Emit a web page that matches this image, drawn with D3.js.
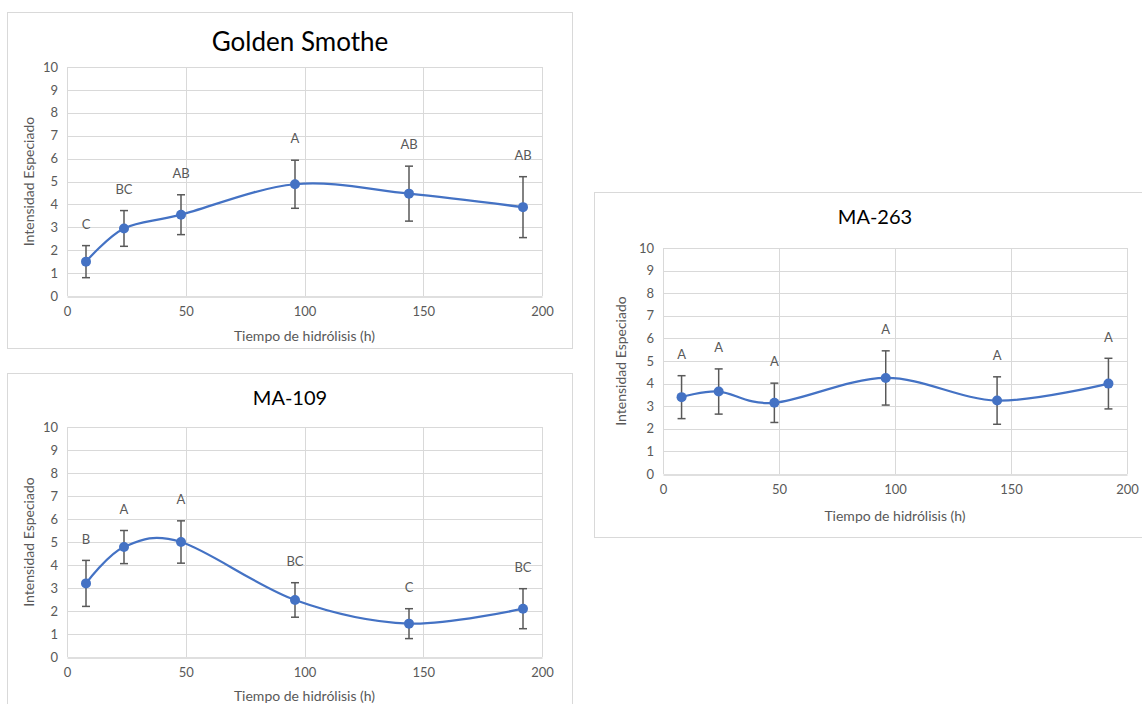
<!DOCTYPE html>
<html>
<head>
<meta charset="utf-8">
<script src="https://cdn.jsdelivr.net/npm/d3@7"></script>
<style>
  body { margin: 0; background: #fff; }
  text { font-family: Lato, "Liberation Sans", sans-serif; }
</style>
</head>
<body>
<div id="vis"></div>
<script>
// data
const hours = [8, 24, 48, 96, 144, 192];
const xTicks = [0, 50, 100, 150, 200];
const yTicks = [0, 1, 2, 3, 4, 5, 6, 7, 8, 9, 10];

const goldenMean = [1.5, 2.95, 3.55, 4.88, 4.47, 3.88];
const goldenErr = [0.7, 0.78, 0.87, 1.05, 1.2, 1.33];
const goldenLetters = ["C", "BC", "AB", "A", "AB", "AB"];

const ma109Mean = [3.2, 4.78, 5.0, 2.48, 1.45, 2.1];
const ma109Err = [1.0, 0.72, 0.92, 0.75, 0.65, 0.87];
const ma109Letters = ["B", "A", "A", "BC", "C", "BC"];

const ma263Mean = [3.4, 3.65, 3.15, 4.25, 3.25, 4.0];
const ma263Err = [0.95, 1.0, 0.87, 1.2, 1.05, 1.12];
const ma263Letters = ["A", "A", "A", "A", "A", "A"];

const W = 1142, H = 704;
const blue = "#4472c4", grey = "#595959";

const svg = d3.select("#vis").append("svg")
  .attr("width", W).attr("height", H)
  .style("background", "#fff");

function drawChart(cfg) {
  const rows = hours.map((h, i) => ({ h: h, v: cfg.mean[i], e: cfg.err[i], lab: cfg.letters[i] }));

  const x = d3.scaleLinear().domain([0, 200]).range([cfg.plot.l, cfg.plot.r]);
  const y = d3.scaleLinear().domain([0, 10]).range([cfg.plot.b, cfg.plot.t]);

  const g = svg.append("g");

  // chart frame
  g.append("rect")
    .attr("x", cfg.box.x + 0.5).attr("y", cfg.box.y + 0.5)
    .attr("width", cfg.box.w).attr("height", cfg.box.h)
    .attr("fill", "#fff").attr("stroke", "#d9d9d9");

  // title
  g.append("text")
    .attr("x", cfg.titleX).attr("y", cfg.titleY)
    .attr("text-anchor", "middle").attr("dominant-baseline", "middle")
    .style("font-size", cfg.titleSize + "px").attr("fill", "#000")
    .text(cfg.title);

  // grid lines
  g.append("g").selectAll("line").data(yTicks.slice(1)).join("line")
    .attr("x1", x(0)).attr("x2", x(200))
    .attr("y1", d => Math.round(y(d)) + 0.5).attr("y2", d => Math.round(y(d)) + 0.5)
    .attr("stroke", "#d9d9d9").attr("stroke-width", 1);
  g.append("g").selectAll("line").data(xTicks).join("line")
    .attr("y1", y(0)).attr("y2", y(10))
    .attr("x1", d => Math.round(x(d)) + 0.5).attr("x2", d => Math.round(x(d)) + 0.5)
    .attr("stroke", "#d9d9d9").attr("stroke-width", 1);

  // axes (labels only, Excel style)
  const xAxis = g.append("g")
    .attr("transform", `translate(0, ${Math.round(y(0)) + 0.5})`)
    .call(d3.axisBottom(x).tickValues(xTicks).tickSize(0).tickPadding(10));
  xAxis.select(".domain").attr("stroke", "#bfbfbf");
  xAxis.selectAll("text").attr("fill", grey).style("font-size", "13px")
    .style("font-family", "Lato, 'Liberation Sans', sans-serif");

  const yAxis = g.append("g")
    .attr("transform", `translate(${x(0)}, 0)`)
    .call(d3.axisLeft(y).tickValues(yTicks).tickSize(0).tickPadding(9));
  yAxis.select(".domain").remove();
  yAxis.selectAll("text").attr("fill", grey).style("font-size", "13px")
    .style("font-family", "Lato, 'Liberation Sans', sans-serif");

  // axis titles
  g.append("text")
    .attr("x", (cfg.plot.l + cfg.plot.r) / 2).attr("y", cfg.xTitleY)
    .attr("text-anchor", "middle").attr("dominant-baseline", "middle")
    .style("font-size", "14px").attr("fill", grey)
    .text("Tiempo de hidrólisis (h)");
  g.append("text")
    .attr("transform", `translate(${cfg.yTitleX}, ${(cfg.plot.t + cfg.plot.b) / 2}) rotate(-90)`)
    .attr("text-anchor", "middle").attr("dominant-baseline", "middle")
    .style("font-size", "14px").attr("fill", grey)
    .text("Intensidad Especiado");

  // smoothed line
  g.append("path")
    .datum(rows)
    .attr("fill", "none").attr("stroke", blue).attr("stroke-width", 2.25)
    .attr("d", d3.line().curve(d3.curveCardinal.tension(0))
      .x(d => x(d.h)).y(d => y(d.v)));

  // error bars
  const eb = g.append("g").attr("stroke", grey).attr("stroke-width", 1.5);
  eb.selectAll(".stem").data(rows).join("line")
    .attr("x1", d => x(d.h)).attr("x2", d => x(d.h))
    .attr("y1", d => y(d.v - d.e)).attr("y2", d => y(d.v + d.e));
  eb.selectAll(".capT").data(rows).join("line")
    .attr("x1", d => x(d.h) - 4).attr("x2", d => x(d.h) + 4)
    .attr("y1", d => y(d.v + d.e)).attr("y2", d => y(d.v + d.e));
  eb.selectAll(".capB").data(rows).join("line")
    .attr("x1", d => x(d.h) - 4).attr("x2", d => x(d.h) + 4)
    .attr("y1", d => y(d.v - d.e)).attr("y2", d => y(d.v - d.e));

  // markers
  g.append("g").selectAll("circle").data(rows).join("circle")
    .attr("cx", d => x(d.h)).attr("cy", d => y(d.v))
    .attr("r", 5).attr("fill", blue);

  // significance letters
  g.append("g").selectAll("text").data(rows).join("text")
    .attr("x", d => x(d.h)).attr("y", d => y(d.v + d.e) - 20)
    .attr("text-anchor", "middle").attr("dominant-baseline", "middle")
    .style("font-size", "13px").attr("fill", grey)
    .text(d => d.lab);
}

drawChart({
  title: "Golden Smothe", titleSize: 26, titleX: 300, titleY: 44,
  mean: goldenMean, err: goldenErr, letters: goldenLetters,
  box: { x: 7, y: 12, w: 565, h: 336 },
  plot: { l: 67, r: 542, t: 67, b: 296 },
  xTitleY: 337, yTitleX: 30
});

drawChart({
  title: "MA-109", titleSize: 20, titleX: 290, titleY: 400,
  mean: ma109Mean, err: ma109Err, letters: ma109Letters,
  box: { x: 7, y: 373, w: 565, h: 345 },
  plot: { l: 67, r: 542, t: 427, b: 657 },
  xTitleY: 697, yTitleX: 30
});

drawChart({
  title: "MA-263", titleSize: 20, titleX: 875, titleY: 219,
  mean: ma263Mean, err: ma263Err, letters: ma263Letters,
  box: { x: 594, y: 192, w: 560, h: 345 },
  plot: { l: 663, r: 1127, t: 248, b: 474 },
  xTitleY: 517, yTitleX: 622
});
</script>
</body>
</html>
